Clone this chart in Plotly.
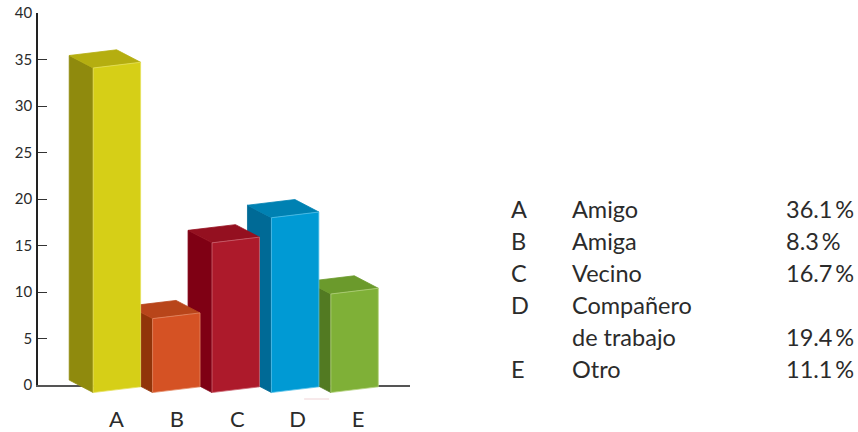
import plotly.graph_objects as go

# Data
categories = ["A", "B", "C", "D", "E"]
bar_values = [34.9, 7.95, 16.1, 18.8, 10.6]
y_ticks = [0, 5, 10, 15, 20, 25, 30, 35, 40]
table_letters = ["A", "B", "C", "D", "", "E"]
table_names = ["Amigo", "Amiga", "Vecino", "Compañero", "de trabajo", "Otro"]
table_pcts = ["36.1\u2009%", "8.3\u2009%", "16.7\u2009%", "", "19.4\u2009%", "11.1\u2009%"]

# Styles
front_colors = ["#D6CF17", "#D55224", "#AD1A2B", "#009AD4", "#7FB037"]
side_colors = ["#8F8A0D", "#913409", "#7F0014", "#006A96", "#527A22"]
top_colors = ["#B5AE10", "#B8451A", "#941020", "#0081B2", "#6B9A2C"]
edge_colors = ["#E6E15C", "#E58A66", "#CC6672", "#55C2EA", "#B4D27E"]
FONT = "Lato"
TEXT = "#2b2b2b"

W, H = 858, 432
L, R, T, B = 37.5, 410, 13, 385
PB = 404  # bottom of the plotting area, below the zero line
px_per_y = (B - T) / 40
step = 59.5
first = 116.5
label_step = 60.5
label_first = 116.0

bar_w = 47.5 / step
depth_x = -24 / step
depth_y = 12.5 / px_per_y
skew = 5.7 / px_per_y
base = -0.2

fig = go.Figure()


def poly(xs, ys, color, line=None):
    fig.add_trace(go.Scatter(
        x=xs + xs[:1], y=ys + ys[:1], yaxis="y2", mode="lines", fill="toself",
        fillcolor=color, line=dict(color=line or color, width=0.8),
        hoverinfo="skip", showlegend=False,
    ))


for i in reversed(range(len(categories))):
    v = bar_values[i]
    xl, xr = i - bar_w / 2, i + bar_w / 2
    tl, tr = v + base - skew, v + base
    bl, br = base - skew, base
    poly([xl, xl + depth_x, xl + depth_x, xl],
         [tl, tl + depth_y, bl + depth_y, bl], side_colors[i])
    poly([xl, xr, xr + depth_x, xl + depth_x],
         [tl, tr, tr + depth_y, tl + depth_y], top_colors[i])
    poly([xl, xr, xr, xl], [tl, tr, br, bl], front_colors[i], edge_colors[i])

# Invisible traces so that the axes subplots exist
positions = list(range(len(categories)))
fig.add_trace(go.Scatter(x=positions, y=[0] * len(positions), mode="markers",
                         marker=dict(opacity=0), hoverinfo="skip", showlegend=False))
fig.add_trace(go.Scatter(x=positions, y=[0] * len(positions), xaxis="x2", mode="markers",
                         marker=dict(opacity=0), hoverinfo="skip", showlegend=False))

x_end = (R - first) / step
annotations = []
row_y = [209, 241, 273, 305, 337, 369]
for col_x, col in [(509, table_letters), (570, table_names), (785, table_pcts)]:
    for y, txt in zip(row_y, col):
        if txt:
            annotations.append(dict(
                text=txt, xref="paper", yref="paper",
                x=(col_x - L) / (R - L), y=(PB - y) / (PB - T),
                xanchor="left", yanchor="middle", showarrow=False,
                font=dict(family=FONT, size=23.5, color=TEXT),
            ))

fig.update_layout(
    width=W, height=H,
    margin=dict(l=L, r=W - R, t=T, b=H - PB, autoexpand=False),
    paper_bgcolor="white", plot_bgcolor="rgba(0,0,0,0)",
    showlegend=False,
    annotations=annotations,
    shapes=[dict(type="line", xref="paper", yref="paper",
                 x0=(304 - L) / (R - L), x1=(329 - L) / (R - L),
                 y0=(PB - 399) / (PB - T), y1=(PB - 399) / (PB - T),
                 line=dict(color="#EFD3D6", width=1))],
    xaxis=dict(
        automargin=False, anchor="y",
        range=[(L - first) / step, x_end], showgrid=False, zeroline=False,
        showline=True, linecolor="#555555", linewidth=1.6, layer="below traces",
        tickvals=[x_end], ticktext=[""], ticks="inside", ticklen=8,
        tickcolor="#555555", tickwidth=1.4,
    ),
    xaxis2=dict(
        automargin=False, overlaying="x", side="bottom", anchor="y",
        range=[(L - label_first) / label_step, (R - label_first) / label_step],
        tickmode="array", tickvals=positions, ticktext=categories,
        showgrid=False, zeroline=False, showline=False, ticks="",
        ticklabelstandoff=19,
        tickfont=dict(family=FONT, size=22, color=TEXT),
    ),
    yaxis=dict(
        automargin=False, anchor="x", domain=[(PB - B) / (PB - T), 1],
        range=[0, 40], tickvals=y_ticks, showgrid=False, zeroline=False,
        showline=True, linecolor="#222222", linewidth=1.5, layer="below traces",
        ticks="inside", ticklen=9, tickcolor="#333333", tickwidth=1.4,
        ticklabelstandoff=1,
        tickfont=dict(family=FONT, size=15, color=TEXT),
    ),
    yaxis2=dict(
        automargin=False, anchor="x", domain=[0, 1], visible=False,
        range=[-(PB - B) / px_per_y, 40],
    ),
)

fig.write_html(
    "out.html",
    config={"displayModeBar": False},
    post_script="document.body.style.margin='0';document.documentElement.style.overflow='hidden';",
)
